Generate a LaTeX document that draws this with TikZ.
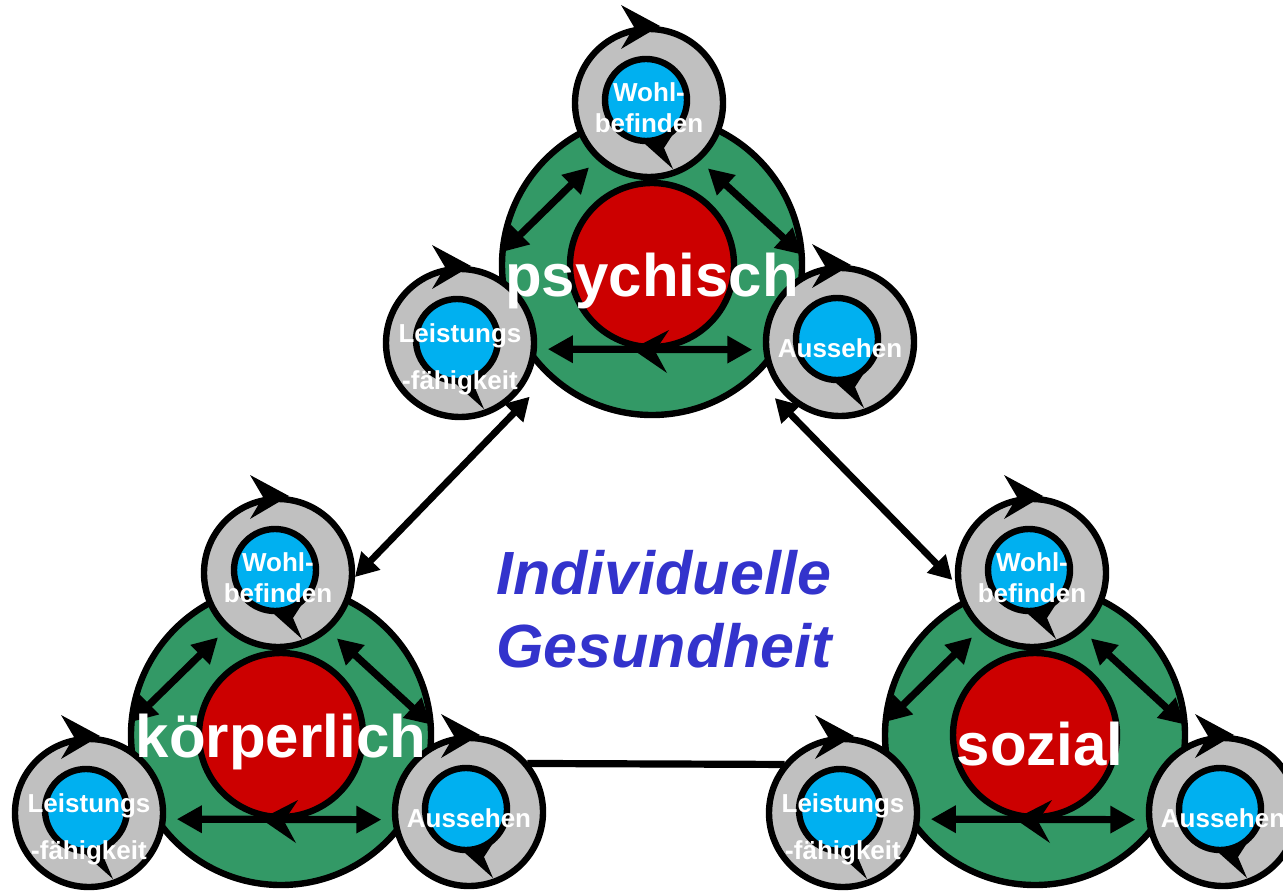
\documentclass[tikz,border=0pt]{standalone}
\usepackage{fontspec}
\setmainfont{Liberation Sans}
\usetikzlibrary{arrows.meta,calc}

\definecolor{clustergreen}{HTML}{339966}
\definecolor{corered}{HTML}{CC0000}
\definecolor{ringgrey}{HTML}{C0C0C0}
\definecolor{ringblue}{HTML}{00B0F0}
\definecolor{titleblue}{HTML}{3333CC}

\tikzset{
  outline/.style={draw=black, line width=3.2pt},
  cluster/.style={circle, outline, fill=clustergreen, minimum size=150pt, inner sep=0pt, outer sep=0pt},
  core/.style={circle, outline, fill=corered, minimum size=82pt, inner sep=0pt, outer sep=0pt},
  ringspot/.style={circle, minimum size=88pt, inner sep=0pt, outer sep=0pt},
  innerlink/.style={line width=3.6pt, {Triangle[length=12.5pt,width=13pt]}-{Triangle[length=12.5pt,width=13pt]}},
  outerlink/.style={line width=3.4pt, {Triangle[length=11.5pt,width=12.5pt]}-{Triangle[length=11.5pt,width=12.5pt]}},
  plainlink/.style={line width=3.6pt},
  coretext/.style={text=white, font=\fontsize{30}{30}\selectfont\bfseries, anchor=base, inner sep=0pt},
  ringtext/.style={text=white, font=\fontsize{13}{15.5}\selectfont\bfseries, align=center, inner sep=0pt},
  titletext/.style={text=titleblue, font=\fontsize{30.5}{36.5}\selectfont\bfseries\itshape, align=center, inner sep=0pt},
}

% grey ring with a clockwise circular arrow around a blue disc
\newcommand\ringdeco[1]{%
  \begin{scope}[shift={(#1)}]
    \filldraw[fill=ringgrey, outline] (0,0) circle[radius=37pt];
    \filldraw[fill=ringblue, outline] (-3,3) circle[radius=20.5pt];
    \fill[black] (11,77) -- (-28,98) -- (-15,76) -- (-28,54) -- cycle;
    \fill[black] (-4,-41) -- (26,-28) -- (15,-45) -- (24,-66) -- cycle;
  \end{scope}}

% one health dimension: green disc, red core, three rings and their links
\newcommand\buildcluster[5]{%
  \node[cluster] (#1G) at (#2,#3) {};
  \node[core] (#1R) at (#2,#3) {};
  \fill[black] ($(#1R)+(-20,-84)$) -- ($(#1R)+(17,-65)$) -- ($(#1R)+(3,-86)$) -- ($(#1R)+(15,-108)$) -- cycle;
  \node[ringspot] (#1W) at ($(#1G)+(-3,162)$) {};
  \node[ringspot] (#1L) at ($(#1G)+(-192,-78)$) {};
  \node[ringspot] (#1A) at ($(#1G)+(188,-77)$) {};
  \draw[innerlink] (#1G.175) -- (#1W.-133);
  \draw[innerlink] (#1W.-48) -- (#1G.4);
  \draw[innerlink] (#1L.-4) -- (#1A.185);
  \ringdeco{#1W}\ringdeco{#1L}\ringdeco{#1A}
  \node[ringtext] (#1Wt) at ($(#1W)+(0,-5)$) {Wohl-\\befinden};
  \node[ringtext] (#1Lt) at ($(#1L)+(0,-16)$) {Leistungs\\[8pt]-fähigkeit};
  \node[ringtext] (#1At) at ($(#1A)+(0,-6)$) {Aussehen};
  \node[coretext] (#1T) at ($(#1G)+#5$) {#4};
}

\begin{document}
\begin{tikzpicture}[x=0.5pt,y=0.5pt]
  \path[use as bounding box] (0,0) rectangle (1283,890);
  \clip (0,0) rectangle (1283,890);
  \fill[white] (0,0) rectangle (1283,890);

  \buildcluster{p}{652}{625}{psychisch}{(0,-32)}
  \buildcluster{k}{281}{155}{körperlich}{(0,-22)}
  \buildcluster{s}{1035}{155}{sozial}{(5,-30)}

  % links between the three dimensions
  \draw[outerlink] ($(pL)+(-37.6:88)$) -- ($(kW)+(-3:77)$);
  \draw[outerlink] ($(pA)+(220.7:86)$) -- ($(sW)+(185:80)$);
  \draw[plainlink] ($(kA)+(39.7:76)$) -- ($(sL)+(140.3:76)$);

  \node[titletext] (title) at (664,280.5) {Individuelle\\Gesundheit};
\end{tikzpicture}
\end{document}
